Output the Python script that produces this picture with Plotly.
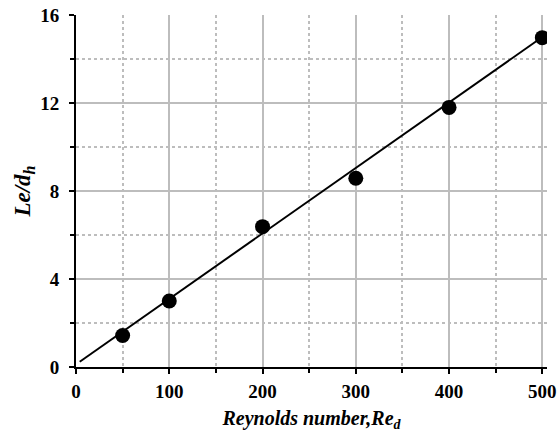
import plotly.graph_objects as go

re_vals = [50, 100, 200, 300, 400, 500]
le_dh = [1.43, 3.0, 6.38, 8.58, 11.8, 14.97]
fit_x = [4, 500]
fit_y = [0.24, 15.0]

x_ticks = [0, 100, 200, 300, 400, 500]
y_ticks = [0, 4, 8, 12, 16]

serif = "Liberation Serif, Times New Roman, serif"

fig = go.Figure()
fig.add_trace(go.Scatter(x=fit_x, y=fit_y, mode="lines",
                         line=dict(color="black", width=2), showlegend=False))
fig.add_trace(go.Scatter(x=re_vals, y=le_dh, mode="markers",
                         marker=dict(color="black", size=15), showlegend=False))

fig.update_layout(
    width=557, height=432,
    margin=dict(l=76, r=10, t=15, b=65),
    plot_bgcolor="white", paper_bgcolor="white",
    xaxis=dict(
        range=[0, 505], tickvals=x_ticks, automargin=False,
        showline=True, linecolor="black", linewidth=2,
        ticks="outside", ticklen=5, tickwidth=2, tickcolor="black",
        showgrid=True, gridcolor="#bdbdbd", gridwidth=1.5,
        zeroline=False,
        minor=dict(tickvals=[50, 150, 250, 350, 450], showgrid=True,
                   gridcolor="#bdbdbd", griddash="dot", gridwidth=1.5,
                   ticks="outside", ticklen=4, tickwidth=1.5, tickcolor="black"),
        tickfont=dict(family=serif, size=19, color="black", weight="bold"),
        ticklabelstandoff=1,
        title=dict(text="<b><i>Reynolds number,Re<sub>d</sub></i></b>",
                   font=dict(family=serif, size=20, color="black"), standoff=14),
    ),
    yaxis=dict(
        range=[0, 16], tickvals=y_ticks, automargin=False,
        showline=True, linecolor="black", linewidth=2,
        ticks="outside", ticklen=5, tickwidth=2, tickcolor="black",
        showgrid=True, gridcolor="#bdbdbd", gridwidth=1.5,
        zeroline=False,
        minor=dict(tickvals=[2, 6, 10, 14], showgrid=True,
                   gridcolor="#bdbdbd", griddash="dot", gridwidth=1.5,
                   ticks="outside", ticklen=4, tickwidth=1.5, tickcolor="black"),
        tickfont=dict(family=serif, size=19, color="black", weight="bold"),
        ticklabelstandoff=6,
        title=dict(text="<b><i>Le/d<sub>h</sub></i></b>",
                   font=dict(family=serif, size=23, color="black"), standoff=3),
    ),
)

fig.write_html("out.html")
